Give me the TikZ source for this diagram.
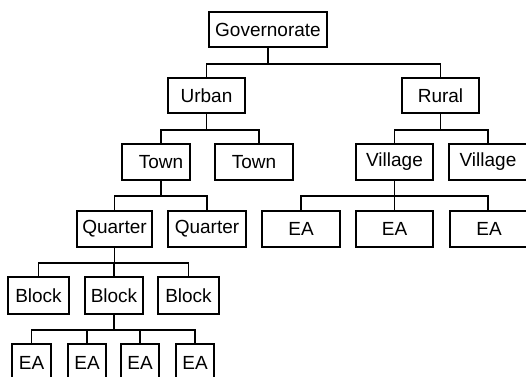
\documentclass[tikz,border=0pt]{standalone}
\usepackage{fontspec}
\setmainfont{Liberation Sans}
\begin{document}
\begin{tikzpicture}[x=1pt, y=-1pt,
  box/.style={draw, line width=1.6pt, inner sep=0pt, minimum height=36pt,
    font=\fontsize{19}{22}\selectfont},
  link/.style={line width=1.6pt}]
\useasboundingbox (0,0) rectangle (526,376);
\clip (0,0) rectangle (526,376);

% level 1
\node[box, minimum width=118pt, minimum height=35pt] (gov) at (268,29.5) {Governorate};
% level 2
\node[box, minimum width=77pt, minimum height=35pt] (urban) at (206.5,95.5) {Urban};
\node[box, minimum width=77pt, minimum height=35pt] (rural) at (440.5,95.5) {Rural};
% level 3
\node[box, minimum width=68pt] (town1) at (156,162) {\hspace*{10pt}Town};
\node[box, minimum width=78pt] (town2) at (254,162) {Town};
\node[box, minimum width=77pt] (vil1) at (394.5,162) {Village};
\node[box, minimum width=82pt] (vil2) at (490,162) {\hspace*{-4pt}Village};
% level 4
\node[box, minimum width=75pt] (q1) at (114.5,229) {Quarter};
\node[box, minimum width=78pt] (q2) at (207,229) {Quarter};
\node[box, minimum width=78pt] (ear1) at (301,229) {EA};
\node[box, minimum width=77pt] (ear2) at (394.5,229) {EA};
\node[box, minimum width=82pt] (ear3) at (491,229) {\hspace*{-4pt}EA};
% level 5
\node[box, minimum width=61pt, minimum height=37pt] (b1) at (38.5,295.5) {Block};
\node[box, minimum width=58pt, minimum height=37pt] (b2) at (114,295.5) {Block};
\node[box, minimum width=61pt, minimum height=37pt] (b3) at (188.5,295.5) {Block};
% level 6
\node[box, minimum width=39pt, minimum height=38pt] (ea1) at (31.5,363) {EA};
\node[box, minimum width=38pt, minimum height=38pt] (ea2) at (87,363) {EA};
\node[box, minimum width=38pt, minimum height=38pt] (ea3) at (140,363) {EA};
\node[box, minimum width=38pt, minimum height=38pt] (ea4) at (195,363) {EA};

% connectors: down from the parent, across, then down to each child
\foreach \c in {urban,rural}
  \draw[link] (gov.south) -- ++(0,16) -| (\c.north);
\foreach \c in {town1,town2}
  \draw[link] (urban.south) -- ++(0,16) -| ([xshift=5pt]\c.north);
\draw[link] (rural.south) -- ++(0,16) -| (vil1.north);
\draw[link] (rural.south) -- ++(0,16) -| ([xshift=-2pt]vil2.north);
\foreach \c in {q1,q2}
  \draw[link] ([xshift=5pt]town1.south) -- ++(0,15) -| (\c.north);
\draw[link] (vil1.south) -- ++(0,15) -| (ear1.north);
\draw[link] (vil1.south) -- ++(0,15) -| (ear2.north);
\draw[link] (vil1.south) -- ++(0,15) -| ([xshift=-3pt]ear3.north);
\foreach \c in {b1,b2,b3}
  \draw[link] (q1.south) -- ++(0,15) -| (\c.north);
\foreach \c in {ea1,ea2,ea3,ea4}
  \draw[link] (b2.south) -- ++(0,15) -| (\c.north);
\end{tikzpicture}
\end{document}
